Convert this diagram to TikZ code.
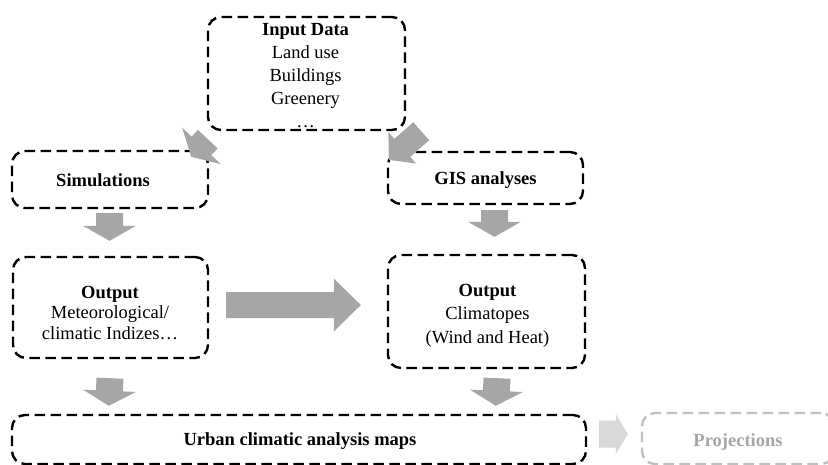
\documentclass[tikz,border=0pt]{standalone}
\usepackage{fontspec}
\setmainfont{Liberation Serif}
\usetikzlibrary{calc}

\definecolor{arrowgray}{HTML}{A6A6A6}
\definecolor{lightarrow}{HTML}{D9D9D9}
\definecolor{fadedline}{HTML}{BFBFBF}
\definecolor{fadedtext}{HTML}{A6A6A6}

% block arrow: #1 fill, #2 tail point, #3 tip point,
% #4 half shaft width, #5 half head width, #6 head length
\newcommand\flowarrow[6]{%
  \path (#2) coordinate (fas) (#3) coordinate (fat);
  \path ($(fat)!#6!(fas)$) coordinate (fah);
  \fill[#1] ($(fas)!#4!90:(fat)$) -- ($(fah)!#4!90:(fat)$)
    -- ($(fah)!#5!90:(fat)$) -- (fat) -- ($(fah)!#5!-90:(fat)$)
    -- ($(fah)!#4!-90:(fat)$) -- ($(fas)!#4!-90:(fat)$) -- cycle;}

\tikzset{
  box/.style={draw, line width=2.4pt, dash pattern=on 10.5pt off 5.5pt,
    rounded corners=13pt, inner sep=0pt},
  fadedbox/.style={box, draw=fadedline},
  txt/.style={align=center, inner sep=0pt},
}

\begin{document}
\begin{tikzpicture}[x=1pt, y=-1pt, font=\fontsize{18.5}{22.5}\selectfont]
\useasboundingbox (0,0) rectangle (828,464);

% boxes
\node[box, minimum width=197pt, minimum height=113pt] (inp) at (306.5,73.5) {};
\node[box, minimum width=196pt, minimum height=57pt] (sim) at (110,179.5) {};
\node[box, minimum width=195pt, minimum height=52pt] (gis) at (485.5,178) {};
\node[box, minimum width=195pt, minimum height=101pt] (out1) at (110.5,307.5) {};
\node[box, minimum width=197pt, minimum height=113pt] (out2) at (486.5,311.5) {};
\node[box, minimum width=574pt, minimum height=49pt] (urban) at (299,439.5) {};
\node[fadedbox, minimum width=192pt, minimum height=51pt] (proj) at (738,438.5) {};

% texts
\node[txt, font=\fontsize{18.5}{23}\selectfont] (inptxt) at (305.5,76)
  {\textbf{Input Data}\\Land use\\Buildings\\Greenery\\…};
\node[txt] (simtxt) at (103,180) {\textbf{Simulations}};
\node[txt] (gistxt) at (485.5,180) {\textbf{GIS analyses}};
\node[txt, font=\fontsize{18.5}{21}\selectfont] (out1txt) at (110,313)
  {\textbf{Output}\\Meteorological/\\climatic Indizes…};
\node[txt, font=\fontsize{18.5}{23.5}\selectfont] (out2txt) at (487.5,315.5)
  {\textbf{Output}\\Climatopes\\(Wind and Heat)};
\node[txt] (urbantxt) at (300,441) {\textbf{Urban climatic analysis maps}};
\node[txt, text=fadedtext] (projtxt) at (738,442) {\textbf{Projections}};

% block arrows
\flowarrow{arrowgray}{$(inp.south west)+(1,8)$}{$(sim.north east)+(-18,7)$}{13.5pt}{26.5pt}{15pt}
\flowarrow{arrowgray}{$(inp.south east)+(15,0)$}{$(gis.north west)+(2,9)$}{12pt}{21pt}{18pt}
\flowarrow{arrowgray}{$(sim.south)+(-0.5,4)$}{$(out1.north)+(-1,-15)$}{13.5pt}{26.5pt}{15pt}
\flowarrow{arrowgray}{$(gis.south)+(9,5)$}{$(out2.north)+(8,-17)$}{13.5pt}{26.5pt}{15pt}
\flowarrow{arrowgray}{$(out1.east)+(17,-2.5)$}{$(out2.west)+(-26,-6.5)$}{13pt}{26.5pt}{27pt}
\flowarrow{arrowgray}{$(out1.south)+(-0.5,19)$}{$(urban.north west)+(98,-8)$}{13.5pt}{26.5pt}{15pt}
\flowarrow{arrowgray}{$(out2.south)+(10.5,9)$}{$(urban.north west)+(485,-8)$}{13.5pt}{26.5pt}{15pt}
\flowarrow{lightarrow}{$(urban.east)+(12,-5.5)$}{$(proj.west)+(-13,-4.5)$}{13.5pt}{20pt}{12pt}
\end{tikzpicture}
\end{document}
